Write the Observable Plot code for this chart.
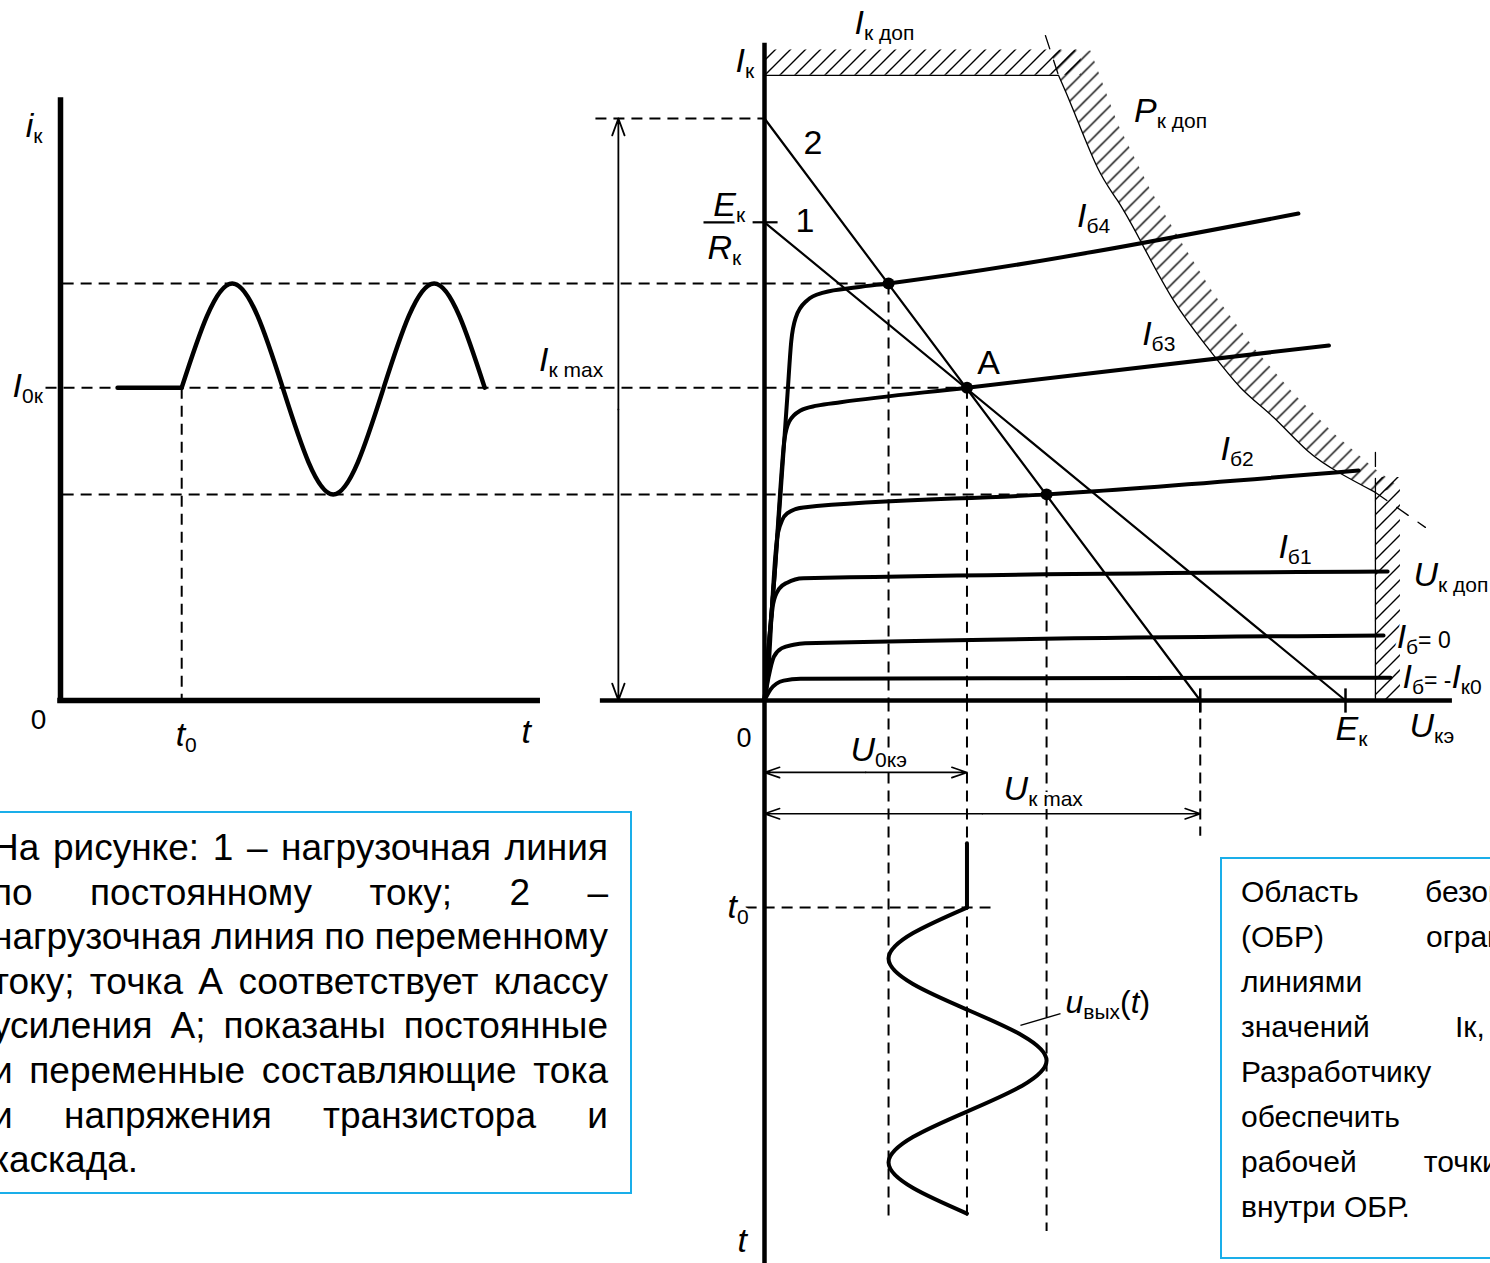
<!DOCTYPE html>
<html lang="ru">
<head>
<meta charset="utf-8">
<title>Нагрузочные линии транзисторного каскада</title>
<script src="https://cdn.jsdelivr.net/npm/d3@7"></script>
<script src="https://cdn.jsdelivr.net/npm/@observablehq/plot@0.6"></script>
<style>
  html, body { margin:0; padding:0; background:#fff; }
  body { position:relative; width:1490px; height:1263px; overflow:hidden; font-family:"Liberation Sans", Arial, sans-serif; color:#000; }
  .layer { position:absolute; left:0; top:0; }
  .box { position:absolute; box-sizing:border-box; border:2px solid #1aaee9; background:#fff; }
  .box .ln { display:flex; justify-content:space-between; white-space:nowrap; }
  .box .ln.last { justify-content:flex-start; }
  #noteL { left:-30px; top:811px; width:662px; height:383px; font-size:37px; line-height:44.6px; padding:13px 22px 0 20px; }
  #noteR { left:1220px; top:857px; width:388px; height:402px; font-size:30px; line-height:45px; padding:10px 20px 0 19px; }
</style>
</head>
<body>
<div id="chart"></div>
<div id="noteL" class="box"></div>
<div id="noteR" class="box"></div>
<script>
// ======================= DATA =======================
// Output characteristics Iк(Uкэ): [Uкэ (V), Iк (mA)]
const ib4   = [[0,0],[0.1,0.8],[0.35,2.6],[0.58,4.5],[0.79,6.3],[0.92,7.4],[1.08,7.9],[1.47,8.25],[2.03,8.41],[3.19,8.52],[4.27,8.6],[18.38,10.04]];
const ib3   = [[0,0],[0.1,0.8],[0.35,2.6],[0.55,4.4],[0.68,5.35],[0.85,5.75],[1.24,5.98],[1.81,6.08],[2.62,6.15],[6.97,6.45],[19.43,7.32]];
const ib2   = [[0,0],[0.14,0.68],[0.27,2.06],[0.38,3.03],[0.46,3.45],[0.78,3.86],[1.34,3.98],[9.71,4.25],[20.45,4.74]];
const ib1   = [[0,0],[0.14,1.03],[0.3,2.0],[0.5,2.3],[0.78,2.43],[1.34,2.52],[21.45,2.66]];
const ib0   = [[0,0],[0.14,0.48],[0.32,0.9],[0.6,1.08],[1.0,1.15],[1.4,1.18],[21.31,1.34]];
const ibNeg = [[0,0],[0.21,0.23],[0.66,0.41],[1.24,0.45],[21.55,0.47]];

// Load lines and limits
const Ek = 20, EkRk = 9.86, IkMax = 12, UkMax = 15;
const IkDop = 12.89, UkDop = 21.03;
const loadDC = [[0, EkRk], [Ek, 0]];          // line 1
const loadAC = [[0, IkMax], [UkMax, 0]];      // line 2
// Pк доп hyperbola (inner edge) and the outer edge of its hatching
const powerCurve = [[9.85,13.40],[10.12,12.89],[10.64,12.16],[11.46,10.99],[12.15,10.31],[12.94,9.48],[14.08,8.25],[15.25,7.28],[16.39,6.45],[17.52,5.84],[18.69,5.15],[19.83,4.68],[21.03,4.29]];
const powerHatchOuter = [[11.22,13.40],[12.15,11.90],[13.29,10.52],[14.32,9.48],[15.46,8.39],[16.83,7.28],[18.21,6.33],[19.59,5.51],[20.96,4.80],[21.89,4.39]];
const powerExtTop = [[9.67,13.71],[10.12,12.89]];
const powerExtBottom = [[21.03,4.29],[22.75,3.57]];
const ukDopExt = [[UkDop,4.29],[UkDop,5.3]];
const workPoints = [[4.27,8.6],[6.97,6.45],[9.71,4.25]];   // Iб4 point, A, Iб2 point

// Collector current vs time (left panel): [t, iк]
const t0 = 2.4;
const icFlat = [[1.13,6.45],[2.4,6.45]];
const icWave = [[2.4,6.45],[3.4,8.6],[4.4,6.45],[5.4,4.25],[6.4,6.45],[7.4,8.6],[8.4,6.45]];
const tAxisEnd = 9.45, iAxisTop = 12.37;

// Output voltage vs time (bottom panel): [Uкэ, τ]
const t0b = 4.06;
const uLead = [[6.97,2.8],[6.97,4.06]];
const uWave = [[6.97,4.06],[4.27,5.06],[6.97,6.06],[9.71,7.06],[6.97,8.06],[4.27,9.06],[6.97,10.06]];
const vGuideEnds = [[4.27,10.1],[6.97,10.1],[9.71,10.4],[15,2.65]];
const dims = [[0,6.97,1.41],[0,15,2.22]];   // [U from, U to, τ]

// Text labels
const labelsR = [
  {x:3.10, y:13.75, text:"I_{к доп}"},
  {x:-1.0, y:12.96, text:"I_{к}"},
  {x:12.72, y:11.92, text:"P_{к доп}"},
  {x:10.76, y:9.76, text:"I_{б4}"},
  {x:13.0, y:7.32, text:"I_{б3}"},
  {x:7.32, y:6.74, text:"A", upright:true},
  {x:15.70, y:4.95, text:"I_{б2}"},
  {x:17.69, y:2.93, text:"I_{б1}"},
  {x:22.34, y:2.37, text:"U_{к доп}"},
  {x:21.76, y:1.09, text:"I_{б}= 0", small:true},
  {x:21.96, y:0.25, text:"I_{б}= -I_{к0}", small:true},
  {x:22.2, y:-0.76, text:"U_{кэ}"},
  {x:19.66, y:-0.82, text:"E_{к}"},
  {x:-0.96, y:-0.96, text:"0", upright:true, size:27},
  {x:-7.76, y:6.80, text:"I_{к max}"},
  {x:1.34, y:11.27, text:"2", upright:true},
  {x:1.07, y:9.66, text:"1", upright:true},
  {x:-1.76, y:10.0, text:"E_{к}"},
  {x:-1.96, y:9.11, text:"R_{к}"}
];
const labelsL = [
  {x:-0.69, y:11.61, text:"i_{к}"},
  {x:-0.95, y:6.25, text:"I_{0к}"},
  {x:-0.59, y:-0.58, text:"0", upright:true, size:28},
  {x:2.28, y:-0.93, text:"t_{0}"},
  {x:9.13, y:-0.87, text:"t"}
];
const labelsB = [
  {x:2.96, y:1.18, text:"U_{0кэ}"},
  {x:8.23, y:1.96, text:"U_{к max}"},
  {x:-1.27, y:4.27, text:"t_{0}"},
  {x:-0.93, y:10.82, text:"t"},
  {x:10.36, y:6.12, text:"u_{вых}(t)", size:32}
];

const noteLeft = ["На рисунке: 1 – нагрузочная линия", "по постоянному току; 2 –", "нагрузочная линия по переменному", "току; точка А соответствует классу", "усиления А; показаны постоянные", "и переменные составляющие тока", "и напряжения транзистора и", "каскада."];
const noteRight = ["Область безопасной", "(ОБР) ограничена", "линиями", "значений Iк,\u00a0Uк,\u00a0Pк.", "Разработчику нужно", "обеспечить выбор", "рабочей точки А", "внутри ОБР."];

// ======================= LAYOUT =======================
const W = 1490, H = 1263;
const FONT = '"Liberation Sans", Arial, Helvetica, sans-serif';
const pxPerV = 29.05, pxPerMA = 48.5, pxPerT = 50.5, pxPerTau = 51;
const originX = 764, originY = 700, leftAxisX = 60;
const DASH = "11,7";

const base = {width: W, height: H, margin: 0, style: {background: "transparent", overflow: "visible"}};
const xU = {domain: [-originX / pxPerV, (W - originX) / pxPerV], axis: null};
const yI = {domain: [(originY - H) / pxPerMA, originY / pxPerMA], axis: null};
const xT = {domain: [-leftAxisX / pxPerT, (W - leftAxisX) / pxPerT], axis: null};
const yTau = {domain: [(H - originY) / pxPerTau, -originY / pxPerTau], axis: null};

const rows = (arr, a, b) => arr.map(p => ({[a]: p[0], [b]: p[1]}));
const plain = s => s.replace(/_\{([^}]*)\}/g, "$1");
const textOpts = {x: "x", y: "y", text: d => plain(d.text), textAnchor: "start", lineAnchor: "bottom",
  fontSize: 34, fontFamily: FONT, fill: "#000", stroke: "white", strokeWidth: 6, paintOrder: "stroke", strokeLinejoin: "round"};

// ---------- right panel: Iк(Uкэ) ----------
const ibSets = [["Iб4", ib4], ["Iб3", ib3], ["Iб2", ib2], ["Iб1", ib1], ["Iб=0", ib0], ["Iб=-Iк0", ibNeg]];
const ibRows = ibSets.flatMap(([name, pts]) => pts.map(([U, I]) => ({name, U, I})));
const wp = rows(workPoints, "U", "I");
const hGuides = [
  {I: workPoints[0][1], U1: -24.16, U2: workPoints[0][0]},
  {I: workPoints[1][1], U1: -24.75, U2: workPoints[1][0]},
  {I: workPoints[2][1], U1: -24.16, U2: workPoints[2][0]},
  {I: IkMax, U1: -5.82, U2: 0}
];
const hatch = "url(#hatchR)";
const powerBand = rows(powerCurve.concat(powerHatchOuter.slice().reverse()), "U", "I");
const svgR = Plot.plot({...base, x: xU, y: yI, marks: [
  Plot.areaY([{U: 0}, {U: 10.9}], {x: "U", y1: IkDop, y2: IkDop + 0.52, fill: hatch}),
  Plot.line(powerBand, {x: "U", y: "I", fill: hatch, stroke: "none"}),
  Plot.areaX([{I: 0}, {I: 4.6}], {y: "I", x1: UkDop, x2: UkDop + 0.86, fill: hatch}),
  Plot.link([{U1: 0, U2: powerCurve[1][0]}], {x1: "U1", x2: "U2", y1: IkDop, y2: IkDop, stroke: "#000", strokeWidth: 1.3}),
  Plot.line(rows(powerCurve.slice(1), "U", "I"), {x: "U", y: "I", curve: "natural", stroke: "#000", strokeWidth: 1.3}),
  Plot.link([{U: UkDop}], {x1: "U", x2: "U", y1: 0, y2: powerCurve[powerCurve.length - 1][1], stroke: "#000", strokeWidth: 1.3}),
  Plot.line(rows(powerExtTop, "U", "I"), {x: "U", y: "I", stroke: "#000", strokeWidth: 1.3, strokeDasharray: "14,12"}),
  Plot.line(rows(powerExtBottom, "U", "I"), {x: "U", y: "I", stroke: "#000", strokeWidth: 1.3, strokeDasharray: "14,12"}),
  Plot.line(rows(ukDopExt, "U", "I"), {x: "U", y: "I", stroke: "#000", strokeWidth: 1.3, strokeDasharray: "14,12"}),
  // dashed projections
  Plot.link(hGuides, {x1: "U1", x2: "U2", y1: "I", y2: "I", stroke: "#000", strokeWidth: 2, strokeDasharray: DASH}),
  Plot.link(wp, {x1: "U", x2: "U", y1: "I", y2: 0, stroke: "#000", strokeWidth: 2, strokeDasharray: DASH}),
  // axes
  Plot.ruleX([0], {y1: yI.domain[0], y2: 13.55, stroke: "#000", strokeWidth: 4.5}),
  Plot.ruleY([0], {x1: -5.65, x2: 23.68, stroke: "#000", strokeWidth: 4.5}),
  Plot.link([{U: Ek}, {U: UkMax}], {x1: "U", x2: "U", y1: -0.25, y2: 0.25, stroke: "#000", strokeWidth: 2.5}),
  Plot.link([{U1: -2.10, U2: -0.59}, {U1: -0.41, U2: 0.45}], {x1: "U1", x2: "U2", y1: EkRk, y2: EkRk, stroke: "#000", strokeWidth: 2.2}),
  // Iк max dimension
  Plot.arrow([{I2: IkMax}, {I2: 0}], {x1: -5.03, x2: -5.03, y1: IkMax / 2, y2: "I2", stroke: "#000", strokeWidth: 1.8, headLength: 15, headAngle: 40}),
  // load lines
  Plot.line(rows(loadDC, "U", "I"), {x: "U", y: "I", stroke: "#000", strokeWidth: 2.2}),
  Plot.line(rows(loadAC, "U", "I"), {x: "U", y: "I", stroke: "#000", strokeWidth: 2.2}),
  // characteristics
  Plot.line(ibRows, {x: "U", y: "I", z: "name", curve: "monotone-x", stroke: "#000", strokeWidth: 4, strokeLinecap: "round", strokeLinejoin: "round"}),
  Plot.dot(wp, {x: "U", y: "I", r: 6, fill: "#000"}),
  Plot.text(labelsR, textOpts)
]});

// ---------- left panel: iк(t) ----------
const svgL = Plot.plot({...base, x: xT, y: yI, marks: [
  Plot.link([{t: t0}], {x1: "t", x2: "t", y1: icFlat[1][1], y2: 0, stroke: "#000", strokeWidth: 2, strokeDasharray: DASH}),
  Plot.ruleX([0], {y1: 0, y2: iAxisTop, stroke: "#000", strokeWidth: 5.5, strokeLinecap: "square"}),
  Plot.ruleY([0], {x1: 0, x2: tAxisEnd, stroke: "#000", strokeWidth: 5.5, strokeLinecap: "square"}),
  Plot.line(rows(icFlat, "t", "i"), {x: "t", y: "i", stroke: "#000", strokeWidth: 4.5}),
  Plot.line(rows(icWave, "t", "i"), {x: "t", y: "i", curve: "natural", stroke: "#000", strokeWidth: 4.5}),
  Plot.text(labelsL, textOpts)
]});

// ---------- bottom panel: uвых(t) ----------
const dimRows = dims.map(([U1, U2, tau]) => ({U1, U2, tau, mid: (U1 + U2) / 2}));
const svgB = Plot.plot({...base, x: xU, y: yTau, marks: [
  Plot.link(rows(vGuideEnds, "U", "tau"), {x1: "U", x2: "U", y1: 0, y2: "tau", stroke: "#000", strokeWidth: 2, strokeDasharray: DASH}),
  Plot.link([{tau: t0b}], {x1: -0.65, x2: 7.78, y1: "tau", y2: "tau", stroke: "#000", strokeWidth: 2, strokeDasharray: DASH}),
  Plot.arrow(dimRows, {x1: "mid", x2: "U2", y1: "tau", y2: "tau", stroke: "#000", strokeWidth: 1.6, headLength: 15, headAngle: 38}),
  Plot.arrow(dimRows, {x1: "mid", x2: "U1", y1: "tau", y2: "tau", stroke: "#000", strokeWidth: 1.6, headLength: 15, headAngle: 38}),
  Plot.line(rows(uLead, "U", "tau"), {x: "U", y: "tau", stroke: "#000", strokeWidth: 4}),
  Plot.line(rows(uWave, "U", "tau"), {x: "U", y: "tau", curve: "natural", stroke: "#000", strokeWidth: 4}),
  Plot.link([{U1: 8.81, t1: 6.37, U2: 10.19, t2: 6.14}], {x1: "U1", y1: "t1", x2: "U2", y2: "t2", stroke: "#000", strokeWidth: 1.4}),
  Plot.text(labelsB, textOpts)
]});

// ======================= POST-PROCESSING =======================
const NS = "http://www.w3.org/2000/svg";
function parseLabel(str) {
  const out = []; let i = 0;
  while (i < str.length) {
    if (str[i] === "_" && str[i + 1] === "{") {
      const j = str.indexOf("}", i);
      out.push({s: str.slice(i + 2, j), sub: true}); i = j + 1;
    } else {
      let j = i;
      while (j < str.length && !(str[j] === "_" && str[j + 1] === "{")) j++;
      out.push({s: str.slice(i, j), sub: false}); i = j;
    }
  }
  return out;
}
function runs(s, upright) {
  if (upright) return [{s, kind: "reg"}];
  const out = [];
  for (const ch of s) {
    const kind = /[A-Za-z]/.test(ch) ? "ital" : "reg";
    if (out.length && out[out.length - 1].kind === kind) out[out.length - 1].s += ch;
    else out.push({s: ch, kind});
  }
  return out;
}
function richify(svg, labels) {
  const g = svg.querySelector('g[aria-label="text"]');
  if (!g) return;
  g.querySelectorAll("text").forEach((el, k) => {
    const d = labels[k];
    const main = d.size || 34;
    while (el.firstChild) el.removeChild(el.firstChild);
    let shift = 0;
    for (const seg of parseLabel(d.text)) {
      const parts = seg.sub ? [{s: seg.s, kind: "sub"}] : runs(seg.s, d.upright);
      for (const r of parts) {
        const ts = document.createElementNS(NS, "tspan");
        ts.textContent = r.s;
        let target = 0;
        if (r.kind === "sub") { ts.setAttribute("font-size", 21); target = 6; }
        else if (r.kind === "ital") { ts.setAttribute("font-size", main); ts.setAttribute("font-style", "italic"); }
        else { ts.setAttribute("font-size", d.small ? 23 : main); }
        if (target !== shift) { ts.setAttribute("dy", target - shift); shift = target; }
        el.appendChild(ts);
      }
    }
  });
}
function addHatch(svg) {
  const defs = document.createElementNS(NS, "defs");
  const pat = document.createElementNS(NS, "pattern");
  pat.setAttribute("id", "hatchR");
  pat.setAttribute("patternUnits", "userSpaceOnUse");
  pat.setAttribute("width", 15); pat.setAttribute("height", 15);
  const path = document.createElementNS(NS, "path");
  path.setAttribute("d", "M-1,16 L16,-1 M-2,2 L2,-2 M13,17 L17,13");
  path.setAttribute("stroke", "#000"); path.setAttribute("stroke-width", 1.4); path.setAttribute("fill", "none");
  pat.appendChild(path); defs.appendChild(pat);
  svg.insertBefore(defs, svg.firstChild);
}
richify(svgR, labelsR); richify(svgL, labelsL); richify(svgB, labelsB);
addHatch(svgR);

const chart = document.getElementById("chart");
for (const s of [svgL, svgB, svgR]) { s.classList.add("layer"); s.style.position = "absolute"; s.style.left = "0"; s.style.top = "0"; chart.appendChild(s); }

function fillNote(id, lines) {
  const box = document.getElementById(id);
  lines.forEach((line, k) => {
    const div = document.createElement("div");
    div.className = "ln" + (k === lines.length - 1 ? " last" : "");
    if (k === lines.length - 1) div.textContent = line;
    else line.split(" ").forEach(w => { const sp = document.createElement("span"); sp.textContent = w; div.appendChild(sp); });
    box.appendChild(div);
  });
}
fillNote("noteL", noteLeft);
fillNote("noteR", noteRight);
</script>
</body>
</html>
